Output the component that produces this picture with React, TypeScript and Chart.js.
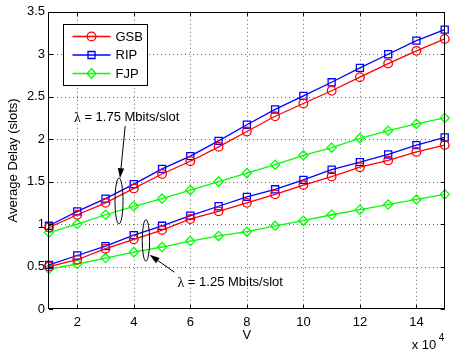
import { useEffect, useRef } from 'react';
import { Chart, registerables } from 'chart.js';

Chart.register(...registerables);

// V (in units of 10^4)
const V_VALUES = [1, 2, 3, 4, 5, 6, 7, 8, 9, 10, 11, 12, 13, 14, 15];
const X_TICKS = [2, 4, 6, 8, 10, 12, 14];

// Average delay (slots), lambda = 1.75 Mbits/slot
const GSB_175 = [0.96, 1.11, 1.25, 1.42, 1.59, 1.74, 1.91, 2.09, 2.27, 2.42, 2.57, 2.73, 2.89, 3.04, 3.18];
const RIP_175 = [0.98, 1.15, 1.3, 1.47, 1.65, 1.8, 1.98, 2.17, 2.35, 2.51, 2.67, 2.84, 3.0, 3.16, 3.29];
const FJP_175 = [0.9, 1.0, 1.11, 1.21, 1.3, 1.4, 1.5, 1.6, 1.7, 1.81, 1.9, 2.01, 2.1, 2.18, 2.25];

// Average delay (slots), lambda = 1.25 Mbits/slot
const GSB_125 = [0.5, 0.58, 0.71, 0.82, 0.93, 1.06, 1.15, 1.25, 1.35, 1.46, 1.56, 1.67, 1.75, 1.85, 1.93];
const RIP_125 = [0.52, 0.63, 0.74, 0.87, 0.98, 1.1, 1.21, 1.32, 1.41, 1.52, 1.64, 1.73, 1.82, 1.93, 2.02];
const FJP_125 = [0.47, 0.53, 0.6, 0.67, 0.73, 0.8, 0.86, 0.91, 0.98, 1.04, 1.11, 1.17, 1.23, 1.29, 1.35];

const SCHEMES = ['GSB', 'RIP', 'FJP'];
const COLORS = ['#ff0000', '#0000ff', '#00ff00'];
const MARKERS = ['circle', 'rect', 'rectRot'];

const LABEL_175 = ' = 1.75 Mbits/slot';
const LABEL_125 = ' = 1.25 Mbits/slot';

const SANS = '"Liberation Sans", Arial, Helvetica, sans-serif';
const SERIF = '"Liberation Serif", "Times New Roman", serif';

function drawMarker(ctx: CanvasRenderingContext2D, kind: string, x: number, y: number) {
  ctx.beginPath();
  if (kind === 'circle') {
    ctx.arc(x, y, 4.3, 0, Math.PI * 2);
  } else if (kind === 'rect') {
    ctx.rect(x - 3.5, y - 3.5, 7, 7);
  } else {
    ctx.moveTo(x, y - 5);
    ctx.lineTo(x + 4.3, y);
    ctx.lineTo(x, y + 5);
    ctx.lineTo(x - 4.3, y);
    ctx.closePath();
  }
  ctx.stroke();
}

function drawArrow(ctx: CanvasRenderingContext2D, x0: number, y0: number, x1: number, y1: number) {
  const ang = Math.atan2(y1 - y0, x1 - x0);
  const len = 10;
  const half = 3.2;
  const bx = x1 - Math.cos(ang) * len;
  const by = y1 - Math.sin(ang) * len;
  ctx.beginPath();
  ctx.moveTo(x0, y0);
  ctx.lineTo(bx, by);
  ctx.stroke();
  ctx.beginPath();
  ctx.moveTo(x1, y1);
  ctx.lineTo(bx - Math.sin(ang) * half, by + Math.cos(ang) * half);
  ctx.lineTo(bx + Math.sin(ang) * half, by - Math.cos(ang) * half);
  ctx.closePath();
  ctx.fill();
}

function drawLambdaText(ctx: CanvasRenderingContext2D, rest: string, x: number, y: number, align: 'left' | 'center') {
  ctx.textBaseline = 'middle';
  ctx.textAlign = 'left';
  ctx.font = `14px ${SERIF}`;
  const wl = ctx.measureText('λ').width;
  ctx.font = `13px ${SANS}`;
  const wr = ctx.measureText(rest).width;
  const start = align === 'center' ? x - (wl + wr) / 2 : x;
  ctx.font = `14px ${SERIF}`;
  ctx.fillText('λ', start, y);
  ctx.font = `13px ${SANS}`;
  ctx.fillText(rest, start + wl, y);
}

// dotted grid drawn under the data
const dottedGrid = {
  id: 'dottedGrid',
  beforeDatasetsDraw(chart: any) {
    const { ctx, chartArea: a, scales } = chart;
    const xs = scales.x;
    const ys = scales.y;
    ctx.save();
    ctx.strokeStyle = 'rgba(0,0,0,0.6)';
    ctx.lineWidth = 1;
    ctx.setLineDash([1, 3]);
    ctx.beginPath();
    X_TICKS.forEach((v) => {
      const px = Math.round(xs.getPixelForValue(v)) + 0.5;
      ctx.moveTo(px, a.top);
      ctx.lineTo(px, a.bottom);
    });
    ys.ticks.forEach((t: any) => {
      if (t.value <= ys.min || t.value >= ys.max) return;
      const py = Math.round(ys.getPixelForValue(t.value)) + 0.5;
      ctx.moveTo(a.left, py);
      ctx.lineTo(a.right, py);
    });
    ctx.stroke();
    ctx.restore();
  },
};

const decorations = {
  id: 'decorations',
  afterDraw(chart: any) {
    const { ctx, chartArea: a, scales } = chart;
    const xs = scales.x;
    const ys = scales.y;
    ctx.save();

    // frame
    ctx.strokeStyle = '#000';
    ctx.lineWidth = 1;
    ctx.strokeRect(Math.round(a.left) - 0.5, Math.round(a.top) + 0.5, Math.round(a.width), Math.round(a.height) - 1);

    // inward tick marks on all four sides
    ctx.beginPath();
    X_TICKS.forEach((v) => {
      const px = Math.round(xs.getPixelForValue(v)) + 0.5;
      ctx.moveTo(px, a.bottom);
      ctx.lineTo(px, a.bottom - 4);
      ctx.moveTo(px, a.top);
      ctx.lineTo(px, a.top + 4);
    });
    ys.ticks.forEach((t: any) => {
      const py = Math.round(ys.getPixelForValue(t.value)) + 0.5;
      ctx.moveTo(a.left, py);
      ctx.lineTo(a.left + 4, py);
      ctx.moveTo(a.right, py);
      ctx.lineTo(a.right - 4, py);
    });
    ctx.stroke();

    // legend
    const bx = Math.round(a.left + 14) + 0.5;
    const by = Math.round(a.top + 12) + 0.5;
    ctx.fillStyle = '#fff';
    ctx.fillRect(bx, by, 84, 61);
    ctx.strokeStyle = '#000';
    ctx.strokeRect(bx, by, 84, 61);
    SCHEMES.forEach((name, i) => {
      const ry = by + 12 + i * 18.5;
      ctx.strokeStyle = COLORS[i];
      ctx.lineWidth = 1.3;
      ctx.beginPath();
      ctx.moveTo(bx + 9, ry);
      ctx.lineTo(bx + 47, ry);
      ctx.stroke();
      drawMarker(ctx, MARKERS[i], bx + 28, ry);
      ctx.fillStyle = '#000';
      ctx.font = `13px ${SANS}`;
      ctx.textAlign = 'left';
      ctx.textBaseline = 'middle';
      ctx.fillText(name, bx + 52, ry + 0.5);
    });

    // group annotations
    ctx.strokeStyle = '#000';
    ctx.fillStyle = '#000';
    ctx.lineWidth = 1;
    const e1x = xs.getPixelForValue(3.477);
    const e1y = ys.getPixelForValue(1.272);
    ctx.beginPath();
    ctx.ellipse(e1x, e1y, 4, 23, 0, 0, Math.PI * 2);
    ctx.stroke();
    const e2x = xs.getPixelForValue(4.429);
    const e2y = ys.getPixelForValue(0.808);
    ctx.beginPath();
    ctx.ellipse(e2x, e2y, 3.7, 20.7, 0, 0, Math.PI * 2);
    ctx.stroke();

    drawArrow(ctx, xs.getPixelForValue(3.696), ys.getPixelForValue(2.154), xs.getPixelForValue(3.512), ys.getPixelForValue(1.54));
    drawArrow(ctx, xs.getPixelForValue(5.44), ys.getPixelForValue(0.433), xs.getPixelForValue(4.56), ys.getPixelForValue(0.638));

    drawLambdaText(ctx, LABEL_175, xs.getPixelForValue(3.749), ys.getPixelForValue(2.251), 'center');
    drawLambdaText(ctx, LABEL_125, xs.getPixelForValue(5.545), ys.getPixelForValue(0.308), 'left');

    // axis titles
    ctx.fillStyle = '#000';
    ctx.font = `13px ${SANS}`;
    ctx.textAlign = 'center';
    ctx.textBaseline = 'middle';
    ctx.fillText('V', (a.left + a.right) / 2, a.bottom + 26.5);
    ctx.save();
    ctx.translate(13, (a.top + a.bottom) / 2);
    ctx.rotate(-Math.PI / 2);
    ctx.fillText('Average Delay (slots)', 0, 0);
    ctx.restore();

    ctx.textAlign = 'right';
    ctx.fillText('x 10', a.right - 8.5, a.bottom + 36);
    ctx.font = `10px ${SANS}`;
    ctx.textAlign = 'left';
    ctx.fillText('4', a.right - 6, a.bottom + 29);

    ctx.restore();
  },
};

function series(values: number[]) {
  return V_VALUES.map((v, i) => ({ x: v, y: values[i] }));
}

export default function App() {
  const ref = useRef<HTMLCanvasElement | null>(null);

  useEffect(() => {
    if (!ref.current) return;
    const groups = [
      [GSB_175, RIP_175, FJP_175],
      [GSB_125, RIP_125, FJP_125],
    ];
    const datasets: any[] = [];
    groups.forEach((g, gi) => {
      g.forEach((vals, i) => {
        datasets.push({
          label: `${SCHEMES[i]} ${gi === 0 ? '1.75' : '1.25'}`,
          data: series(vals),
          borderColor: COLORS[i],
          backgroundColor: 'rgba(0,0,0,0)',
          borderWidth: 1.3,
          pointStyle: MARKERS[i],
          pointRadius: i === 1 ? 5 : i === 2 ? 4.6 : 4.3,
          pointBorderWidth: 1.3,
          pointBorderColor: COLORS[i],
          pointBackgroundColor: 'rgba(0,0,0,0)',
          tension: 0,
          fill: false,
          clip: false,
        });
      });
    });

    const chart = new Chart(ref.current, {
      type: 'line',
      data: { datasets },
      plugins: [dottedGrid, decorations],
      options: {
        animation: false,
        responsive: true,
        maintainAspectRatio: false,
        layout: { padding: { top: 10, right: 1, left: 0, bottom: 0 } },
        plugins: {
          legend: { display: false },
          tooltip: { enabled: false },
        },
        scales: {
          x: {
            type: 'linear',
            min: 1,
            max: 15,
            afterBuildTicks: (scale: any) => {
              scale.ticks = X_TICKS.map((v) => ({ value: v }));
            },
            afterFit: (scale: any) => {
              scale.height = 41;
            },
            ticks: {
              color: '#000',
              padding: 6,
              maxRotation: 0,
              font: { family: SANS, size: 13 },
              callback: (v: any) => String(Number(v)),
            },
            grid: { display: false, drawTicks: false },
            border: { display: false },
          },
          y: {
            type: 'linear',
            min: 0,
            max: 3.5,
            afterFit: (scale: any) => {
              scale.width = 49;
            },
            ticks: {
              stepSize: 0.5,
              color: '#000',
              padding: 4,
              font: { family: SANS, size: 13 },
              callback: (v: any) => String(Number(v)),
            },
            grid: { display: false, drawTicks: false },
            border: { display: false },
          },
        },
      } as any,
    });
    return () => chart.destroy();
  }, []);

  return (
    <div style={{ position: 'fixed', left: 0, top: 0, width: 451, height: 350, background: '#fff' }}>
      <canvas ref={ref} />
    </div>
  );
}
